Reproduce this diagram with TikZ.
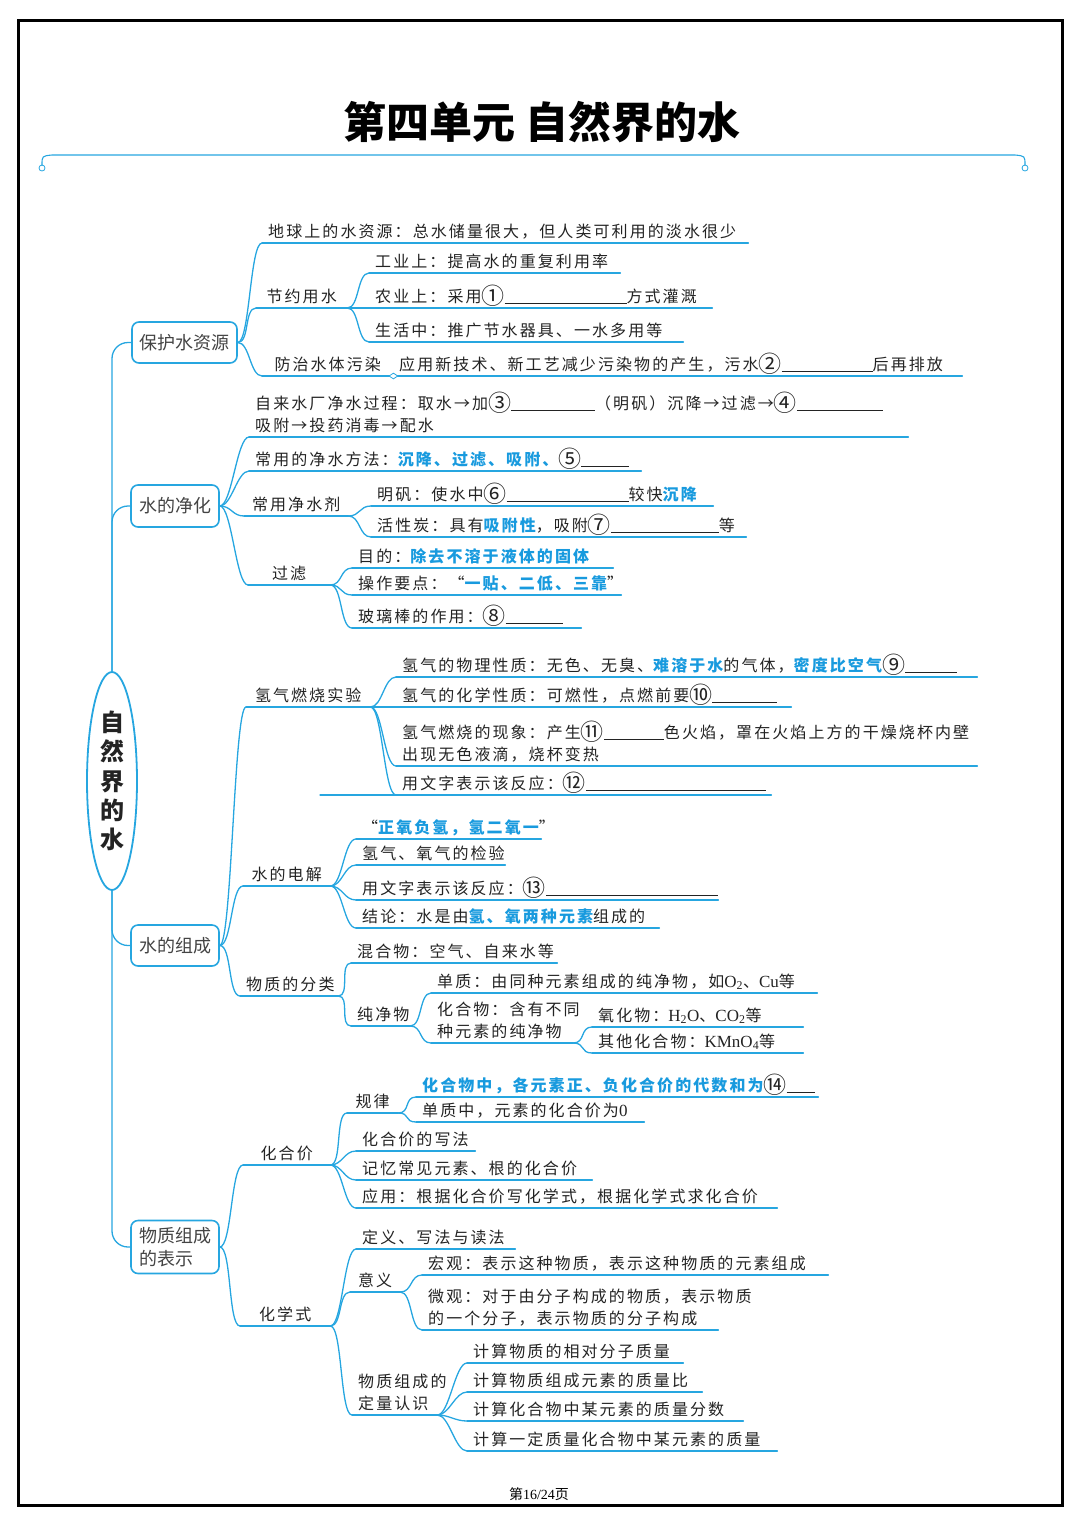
\documentclass[tikz,border=0pt]{standalone}
\usepackage{fontspec}
\setmainfont{Noto Sans CJK SC}
\newfontfamily\mapfont{Noto Sans CJK SC}[LetterSpace=13]
\newfontfamily\serifnum{Liberation Serif}
\usepackage{xcolor}
\usepackage{tikz}
\usetikzlibrary{shapes.geometric}
\definecolor{mapBlue}{RGB}{38,166,224}
\definecolor{hiBlue}{RGB}{24,154,222}
\definecolor{ink}{RGB}{35,35,35}
\newcommand{\hlt}[1]{{\bfseries\color{hiBlue}#1}}
\newcommand{\fillin}[1]{\rule[-1.5pt]{#1pt}{1pt}}
\newcommand{\nm}[1]{\raisebox{-2pt}{\fontsize{23}{21.5}\selectfont #1}}
\newcommand{\chem}[1]{{\fontsize{17}{21.5}\selectfont\serifnum #1}}

\begin{document}
\begin{tikzpicture}[x=1pt,y=-1pt,line cap=round,
  br/.style={mapBlue,line width=1.3pt},
  swoop/.style={to path={.. controls +(12,0) and +(-12,0) .. (\tikztotarget)}},
  hub/.style={draw=mapBlue,line width=1.6pt,rounded corners=7pt,fill=white,
    font=\fontsize{18}{23}\selectfont,text=ink!85,inner sep=0pt},
  leaf/.style={anchor=south west,inner xsep=6pt,inner ysep=0pt,align=left,
    font=\fontsize{16}{21.5}\mapfont,text=ink,
    execute at end node={\rule[-5.5pt]{0pt}{5.5pt}}},
  tag/.style={leaf,align=center}]
  \useasboundingbox (0,0) rectangle (1080,1527);
  \draw[line width=3pt] (18,20) rectangle (1062,1505);
  % heading and its ribbon
  \node[font=\fontsize{43}{50}\selectfont\bfseries] (title) at (542,122) {第四单元 自然界的水};
  \draw[br,line width=1.1pt] (42,165) .. controls (42,156) .. (52,155) -- (1015,155)
    .. controls (1025,156) .. (1025,165);
  \draw[br,line width=0.8pt] (42,168) circle[radius=3] (1025,168) circle[radius=3];
  \node[font=\fontsize{14}{16}\selectfont] (page) at (539,1494) {第{\serifnum 16/24}页};
  % centre and the four topic boxes
  \node[ellipse,draw=mapBlue,line width=1.8pt,fill=white,minimum width=50pt,
    minimum height=218pt,inner sep=0pt,align=center,
    font=\fontsize{24}{29.3}\selectfont\bfseries,text=ink] (core) at (112,781) {自\\然\\界\\的\\水};
  \node[hub,minimum width=105pt,minimum height=41pt] (protect) at (184.5,342.5) {保护水资源};
  \node[hub,minimum width=88pt,minimum height=42pt] (purify) at (175,506) {水的净化};
  \node[hub,minimum width=88pt,minimum height=41pt] (compose) at (175,945.5) {水的组成};
  \node[hub,minimum width=88pt,minimum height=53pt,align=left] (express) at (175,1247) {物质组成\\的表示};
  % ---- 保护水资源 ----
  \node[leaf,text width=474pt] (p1) at (262,243) {地球上的水资源：总水储量很大，但人类可利用的淡水很少};
  \node[tag,text width=79pt] (p2) at (256,308) {节约用水};
  \node[leaf,text width=239pt] (p21) at (369,273) {工业上：提高水的重复利用率};
  \node[leaf,text width=331pt] (p22) at (369,308) {农业上：采用\nm{①}\fillin{122}方式灌溉};
  \node[leaf,text width=302pt] (p23) at (369,342) {生活中：推广节水器具、一水多用等};
  \node[tag,text width=119pt] (p3) at (262,376) {防治水体污染};
  \node[leaf,text width=557pt] (p31) at (393,376) {应用新技术、新工艺减少污染物的产生，污水\nm{②}\fillin{91}后再排放};
  % ---- 水的净化 ----
  \node[leaf,text width=647pt] (q1) at (249,437) {自来水厂净水过程：取水→加\nm{③}\fillin{84}（明矾）沉降→过滤→\nm{④}\fillin{86}\\吸附→投药消毒→配水};
  \node[leaf,text width=380pt] (q2) at (249,471) {常用的净水方法：\hlt{沉降、过滤、吸附、}\nm{⑤}\fillin{48}};
  \node[tag,text width=92pt] (q3) at (244,516) {常用净水剂};
  \node[leaf,text width=330pt] (q31) at (371,506) {明矾：使水中\nm{⑥}\fillin{122}较快\hlt{沉降}};
  \node[leaf,text width=363pt] (q32) at (371,537) {活性炭：具有\hlt{吸附性}，吸附\nm{⑦}\fillin{108}等};
  \node[tag,text width=70pt] (q4) at (248,585) {过滤};
  \node[leaf,text width=249pt] (q41) at (352,568) {目的：\hlt{除去不溶于液体的固体}};
  \node[leaf,text width=257pt] (q42) at (352,595) {操作要点：“\hlt{一贴、二低、三靠}”};
  \node[leaf,text width=217pt] (q43) at (352,628) {玻璃棒的作用：\nm{⑧}\fillin{57}};
  % ---- 水的组成 ----
  \node[tag,text width=112pt] (r1) at (246,707) {氢气燃烧实验};
  \node[leaf,text width=569pt] (r11) at (396,677) {氢气的物理性质：无色、无臭、\hlt{难溶于水}的气体，\hlt{密度比空气}\nm{⑨}\fillin{52}};
  \node[leaf,text width=383pt] (r12) at (396,707) {氢气的化学性质：可燃性，点燃前要\nm{⑩}\fillin{65}};
  \node[leaf,text width=569pt] (r13) at (396,766) {氢气燃烧的现象：产生\nm{⑪}\fillin{60}色火焰，罩在火焰上方的干燥烧杯内壁\\出现无色液滴，烧杯变热};
  \node[leaf,text width=363pt] (r14) at (396,795) {用文字表示该反应：\nm{⑫}\fillin{180}};
  \coordinate (stub) at (320,795);
  \node[tag,text width=75pt] (r2) at (243,886) {水的电解};
  \node[leaf,text width=173pt] (r21) at (356,839) {“\hlt{正氧负氢，氢二氧一}”};
  \node[leaf,text width=137pt] (r22) at (356,865) {氢气、氧气的检验};
  \node[leaf,text width=350pt] (r23) at (356,900) {用文字表示该反应：\nm{⑬}\fillin{172}};
  \node[leaf,text width=291pt] (r24) at (356,928) {结论：水是由\hlt{氢、氧两种元素}组成的};
  \node[tag,text width=86pt] (r3) at (240,996) {物质的分类};
  \node[leaf,text width=194pt] (r31) at (351,963) {混合物：空气、自来水等};
  \node[tag,text width=47pt] (r32) at (351,1026) {纯净物};
  \node[leaf,text width=374pt] (r321) at (431,993) {单质：由同种元素组成的纯净物，如\chem{O\textsubscript{2}}、\chem{Cu}等};
  \node[leaf,text width=130pt] (r322) at (431,1043) {化合物：含有不同\\种元素的纯净物};
  \node[leaf,text width=199pt] (r3221) at (592,1027) {氧化物：\chem{H\textsubscript{2}O}、\chem{CO\textsubscript{2}}等};
  \node[leaf,text width=199pt] (r3222) at (592,1053) {其他化合物：\chem{KMnO\textsubscript{4}}等};
  % ---- 物质组成的表示 ----
  \node[tag,text width=75pt] (s1) at (243,1165) {化合价};
  \node[tag,text width=39pt] (s11) at (347,1113) {规律};
  \node[leaf,text width=390pt] (s111) at (416,1097) {\hlt{化合物中，各元素正、负化合价的代数和为}\nm{⑭}\fillin{28}};
  \node[leaf,text width=216pt] (s112) at (416,1122) {单质中，元素的化合价为\chem{0}};
  \node[leaf,text width=107pt] (s12) at (356,1151) {化合价的写法};
  \node[leaf,text width=224pt] (s13) at (356,1180) {记忆常见元素、根的化合价};
  \node[leaf,text width=409pt] (s14) at (356,1208) {应用：根据化合价写化学式，根据化学式求化合价};
  \node[tag,text width=78pt] (s2) at (240,1326) {化学式};
  \node[leaf,text width=147pt] (s21) at (356,1249) {定义、写法与读法};
  \node[tag,text width=38pt] (s22) at (350,1292) {意义};
  \node[leaf,text width=394pt] (s221) at (422,1275) {宏观：表示这种物质，表示这种物质的元素组成};
  \node[leaf,text width=284pt] (s222) at (422,1330) {微观：对于由分子构成的物质，表示物质\\的一个分子，表示物质的分子构成};
  \node[leaf,text width=73pt] (s23) at (352,1415) {物质组成的\\定量认识};
  \node[leaf,text width=204pt] (s231) at (467,1363) {计算物质的相对分子质量};
  \node[leaf,text width=223pt] (s232) at (467,1392) {计算物质组成元素的质量比};
  \node[leaf,text width=264pt] (s233) at (467,1421) {计算化合物中某元素的质量分数};
  \node[leaf,text width=298pt] (s234) at (467,1451) {计算一定质量化合物中某元素的质量};
  % trunk from the centre
  \foreach \n in {protect,purify} \draw[br,rounded corners=16pt] (core.north) |- (\n.west);
  \foreach \n in {compose,express} \draw[br,rounded corners=16pt] (core.south) |- (\n.west);
  % underlines
  \foreach \n in {p1,p2,p21,p22,p23,p3,p31,q1,q2,q3,q31,q32,q4,q41,q42,q43,
      r1,r11,r12,r13,r14,r2,r21,r22,r23,r24,r3,r31,r32,r321,r322,r3221,r3222,
      s1,s11,s111,s112,s12,s13,s14,s2,s21,s22,s221,s222,s23,s231,s232,s233,s234}
    \draw[br] (\n.south west) -- (\n.south east);
  \draw[br] (stub) -- (r14.south west);
  % branches
  \foreach \a/\b in {protect.east/p1,protect.east/p2,protect.east/p3,
      p2.south east/p21,p2.south east/p22,p2.south east/p23,
      purify.east/q1,purify.east/q2,purify.east/q3,purify.east/q4,
      q3.south east/q31,q3.south east/q32,
      q4.south east/q41,q4.south east/q42,q4.south east/q43,
      compose.east/r1,compose.east/r2,compose.east/r3,
      r1.south east/r11,r1.south east/r12,r1.south east/r13,r1.south east/r14,
      r2.south east/r21,r2.south east/r22,r2.south east/r23,r2.south east/r24,
      r3.south east/r31,r3.south east/r32,
      r32.south east/r321,r32.south east/r322,
      r322.south east/r3221,r322.south east/r3222,
      express.east/s1,express.east/s2,
      s1.south east/s11,s1.south east/s12,s1.south east/s13,s1.south east/s14,
      s11.south east/s111,s11.south east/s112,
      s2.south east/s21,s2.south east/s22,s2.south east/s23,
      s22.south east/s221,s22.south east/s222,
      s23.south east/s231,s23.south east/s232,s23.south east/s233,s23.south east/s234}
    \draw[br] (\a) to[swoop] (\b.south west);
  \node[diamond,draw=mapBlue,fill=white,line width=0.8pt,inner sep=0pt,
    minimum width=9pt,minimum height=6pt] (knot) at (p3.south east) {};
\end{tikzpicture}
\end{document}
